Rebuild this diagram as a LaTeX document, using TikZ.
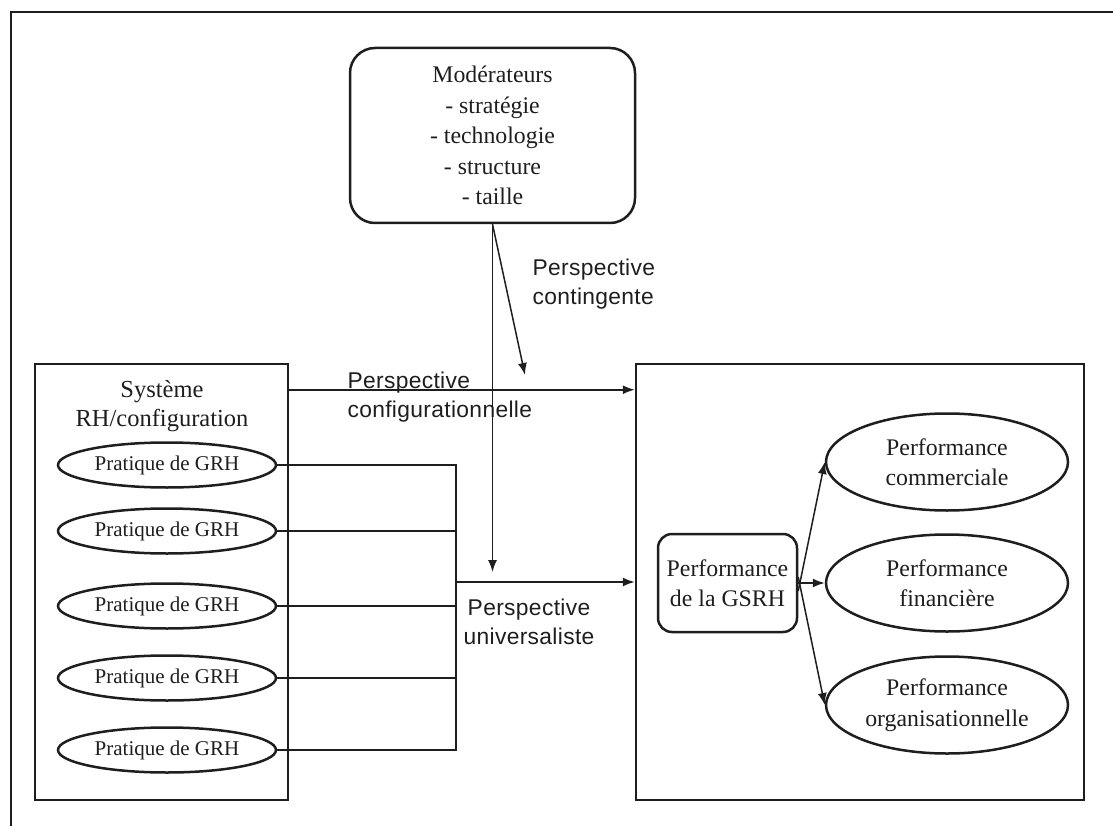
\documentclass[tikz,border=0pt]{standalone}
\usepackage{fontspec}
\setmainfont{Liberation Serif}
\newfontfamily\labelfont[LetterSpace=1.5]{Liberation Sans}
\usetikzlibrary{arrows.meta,shapes.geometric}
\definecolor{ink}{RGB}{30,30,30}
\begin{document}
\begin{tikzpicture}[x=1pt,y=-1pt,
  every node/.style={text=ink},
  frameline/.style={draw=ink,line width=2.2pt},
  boxframe/.style={draw=ink,line width=2.5pt,rectangle,inner sep=0pt},
  roundbox/.style={draw=ink,line width=2.5pt,rectangle,align=center,inner sep=0pt,
    font=\fontsize{23.8}{30.5}\selectfont},
  practice/.style={draw=ink,line width=2.5pt,ellipse,inner sep=0pt,
    minimum width=218pt,minimum height=45pt,font=\fontsize{21}{24}\selectfont},
  outcome/.style={draw=ink,line width=2.5pt,ellipse,inner sep=0pt,align=center,
    minimum width=242pt,minimum height=97pt,font=\fontsize{23.8}{30.5}\selectfont},
  heading/.style={align=center,font=\fontsize{24.5}{29}\selectfont},
  persp/.style={font=\labelfont\fontsize{22.8}{29}\selectfont},
  link/.style={draw=ink,line width=1.5pt},
  arr/.style={link,-{Latex[length=12pt,width=9pt]}}
]
\useasboundingbox (0,0) rectangle (1113,826);

% outer frame, open at the right and bottom
\draw[frameline] (11,826) -- (11,12) -- (1113,12);

% moderating factors
\node[roundbox,rounded corners=25pt,minimum width=285pt,minimum height=175pt]
  (mod) at (492.5,135.5)
  {Modérateurs\\- stratégie\\- technologie\\- structure\\- taille};

% HR system with its practices
\node[boxframe,minimum width=253pt,minimum height=436pt] (sys) at (161.5,582) {};
\node[heading] (systxt) at (162,406) {Système\\RH/configuration};
\node[practice] (p1) at (167,465) {Pratique de GRH};
\node[practice] (p2) at (167,531) {Pratique de GRH};
\node[practice] (p3) at (167,606) {Pratique de GRH};
\node[practice] (p4) at (167,678) {Pratique de GRH};
\node[practice] (p5) at (167,750) {Pratique de GRH};

% performance side
\node[boxframe,minimum width=448pt,minimum height=436pt] (perf) at (860,582) {};
\node[roundbox,rounded corners=14pt,minimum width=139pt,minimum height=98pt]
  (gsrh) at (727.5,583) {Performance\\de la GSRH};
\node[outcome] (com) at (947,462) {Performance\\commerciale};
\node[outcome] (fin) at (947,583) {Performance\\financière};
\node[outcome] (org) at (947,705) {Performance\\organisationnelle};

% junction points
\coordinate (bus) at (456,582);
\coordinate (vtip) at (492.5,572);
\coordinate (dtip) at (525,375);

% practices gathered on a common bus
\draw[link] (p1.east) -| (bus);
\draw[link] (p5.east) -| (bus);
\draw[link] (p2.east) -- (p2.east -| bus);
\draw[link] (p3.east) -- (p3.east -| bus);
\draw[link] (p4.east) -- (p4.east -| bus);

% main relations
\draw[arr] ([yshift=-27pt]sys.north east) -- ([yshift=-27pt]perf.north west);
\draw[arr] (bus) -- (perf.west);
\draw[arr] (mod.south) -- (vtip);
\draw[arr] (mod.south) -- (dtip);

% performance dimensions
\draw[arr] ([yshift=-8pt]gsrh.east) -- (com.west);
\draw[arr] (gsrh.east) -- (fin.west);
\draw[arr] ([yshift=6pt]gsrh.east) -- (org.west);

% perspective labels
\node[persp,align=left,anchor=west] (lcont) at (529,284) {Perspective\\contingente};
\node[persp,align=left,anchor=west] (lconf) at (344,397) {Perspective\\configurationnelle};
\node[persp,align=center] (luniv) at (529,622) {Perspective\\universaliste};
\end{tikzpicture}
\end{document}
